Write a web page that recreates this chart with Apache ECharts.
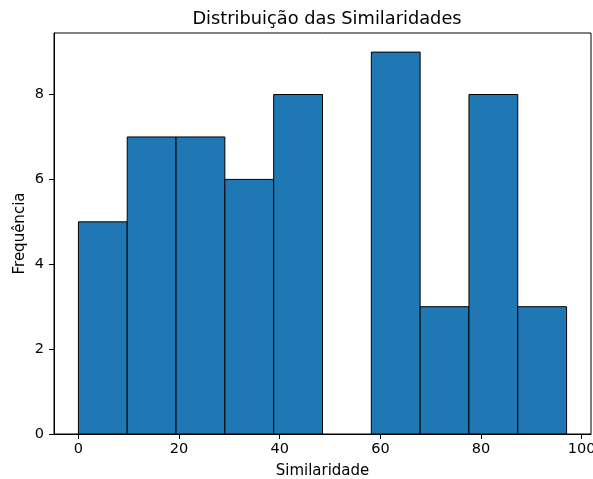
<!DOCTYPE html>
<html>
<head>
<meta charset="utf-8">
<script src="https://cdn.jsdelivr.net/npm/echarts@6/dist/echarts.min.js"></script>
<style>html,body{margin:0;padding:0;background:#fff}#c{width:593px;height:479px}</style>
</head>
<body>
<div id="c"></div>
<script>
const binEdges = [0, 9.7, 19.4, 29.1, 38.8, 48.5, 58.2, 67.9, 77.6, 87.3, 97.0];
const counts = [5, 7, 7, 6, 8, 0, 9, 3, 8, 3];
const xTicks = [0, 20, 40, 60, 80, 100];
const yTicks = [0, 2, 4, 6, 8];
const titleText = 'Distribuição das Similaridades';
const xLabel = 'Similaridade';
const yLabel = 'Frequência';

const data = counts.map((c, i) => [binEdges[i], binEdges[i + 1], c]);
const FONT = 'DejaVu Sans';
const chart = echarts.init(document.getElementById('c'), null, {renderer: 'canvas'});
chart.setOption({
  animation: false,
  backgroundColor: '#fff',
  title: {
    text: titleText, left: 322, top: 5, textAlign: 'center',
    textStyle: {fontFamily: FONT, fontSize: 17.8, fontWeight: 'normal', color: '#000'}
  },
  grid: {left: 54, right: 2, top: 33, bottom: 45, outerBoundsMode: 'none', containLabel: false,
    show: true, borderColor: '#000', borderWidth: 1, backgroundColor: 'transparent'},
  xAxis: {
    type: 'value', min: -4.85, max: 101.85,
    name: xLabel, nameLocation: 'middle', nameGap: 30,
    nameTextStyle: {fontFamily: FONT, fontSize: 15, color: '#000'},
    axisLine: {show: true, onZero: false, lineStyle: {color: '#000', width: 1}},
    axisTick: {show: true, inside: false, length: 5, lineStyle: {color: '#000'}, customValues: xTicks},
    axisLabel: {fontFamily: FONT, fontSize: 14.5, color: '#000', margin: 8, customValues: xTicks},
    splitLine: {show: false}
  },
  yAxis: {
    type: 'value', min: 0, max: 9.45,
    name: yLabel, nameLocation: 'middle', nameGap: 26, nameRotate: 90, nameMoveOverlap: false,
    nameTextStyle: {fontFamily: FONT, fontSize: 15, color: '#000'},
    axisLine: {show: true, onZero: false, lineStyle: {color: '#000', width: 1}},
    axisTick: {show: true, inside: false, length: 5, lineStyle: {color: '#000'}, customValues: yTicks},
    axisLabel: {fontFamily: FONT, fontSize: 14.5, color: '#000', margin: 10, customValues: yTicks},
    splitLine: {show: false}
  },
  series: [{
    type: 'custom',
    data: data,
    encode: {x: [0, 1], y: 2},
    renderItem: function (params, api) {
      const p0 = api.coord([api.value(0), 0]);
      const p1 = api.coord([api.value(1), api.value(2)]);
      if (api.value(2) <= 0) return null;
      return {
        type: 'rect',
        shape: {x: p0[0], y: p1[1], width: p1[0] - p0[0], height: p0[1] - p1[1]},
        style: {fill: '#1f77b4', stroke: '#000', lineWidth: 1}
      };
    }
  }]
});
</script>
</body>
</html>
